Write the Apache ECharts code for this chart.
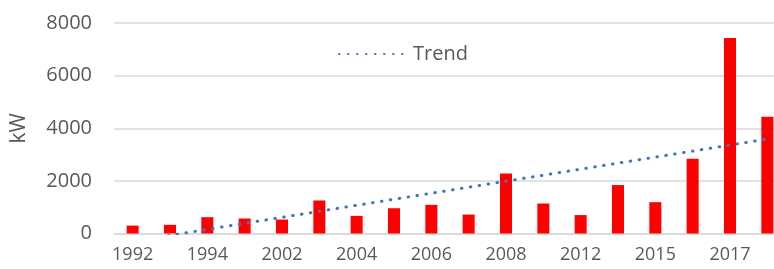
<!DOCTYPE html>
<html>
<head>
<meta charset="utf-8">
<script src="https://cdn.jsdelivr.net/npm/echarts@6/dist/echarts.min.js"></script>
<style>
  html, body { margin: 0; padding: 0; background: #fff; }
  #main { width: 774px; height: 269px; }
</style>
</head>
<body>
<div id="main"></div>
<script>
// categories (only every other one is labelled in the picture)
var years = ['1992', '1993', '1994', '2001', '2002', '2003', '2004', '2005', '2006',
             '2007', '2008', '2010', '2012', '2014', '2015', '2016', '2017', '2018'];
// installed power, kW
var power = [300, 330, 620, 570, 530, 1255, 670, 960, 1090,
             720, 2280, 1140, 700, 1840, 1190, 2840, 7430, 4435];
// trend line end points (first and last category)
var trendEnds = [-300, 3590];
var yTicks = [0, 2000, 4000, 6000, 8000];

var trend = years.map(function (d, i) {
    if (i === 0) return trendEnds[0];
    if (i === years.length - 1) return trendEnds[1];
    return null;
});

var font = 'Open Sans';
var grey = '#595959';

var myChart = echarts.init(document.getElementById('main'));

var option = {
    animation: false,
    textStyle: { fontFamily: font },
    grid: {
        left: 114,
        top: 23,
        bottom: 35.5,
        width: 672,
        outerBoundsMode: 'none'
    },
    legend: {
        left: 333,
        top: 39,
        itemWidth: 69,
        itemHeight: 10,
        itemGap: 7,
        itemStyle: { opacity: 0 },
        textStyle: { color: grey, fontSize: 20, fontFamily: font },
        data: ['Trend']
    },
    xAxis: {
        type: 'category',
        data: years,
        axisTick: { show: false },
        axisLine: { lineStyle: { color: '#d9d9d9', width: 1.5 } },
        axisLabel: {
            interval: 1,
            color: grey,
            fontSize: 18,
            margin: 12
        }
    },
    yAxis: {
        type: 'value',
        min: yTicks[0],
        max: yTicks[yTicks.length - 1],
        interval: 2000,
        name: 'kW',
        nameLocation: 'middle',
        nameRotate: 90,
        nameGap: 84,
        nameTextStyle: { color: grey, fontSize: 21, fontFamily: font },
        axisLabel: {
            color: grey,
            fontSize: 20,
            margin: 22,
            formatter: function (v) { return String(v); }
        },
        splitLine: { lineStyle: { color: '#d9d9d9', width: 1.5 } }
    },
    series: [
        {
            name: 'kW',
            type: 'bar',
            data: power,
            barWidth: 12,
            itemStyle: { color: '#ff0000' }
        },
        {
            name: 'Trend',
            type: 'line',
            data: trend,
            connectNulls: true,
            symbol: 'none',
            clip: true,
            lineStyle: {
                color: '#4472c4',
                width: 3,
                type: [0.5, 8.5],
                cap: 'round'
            },
            itemStyle: { color: '#4472c4' }
        }
    ]
};

myChart.setOption(option);
</script>
</body>
</html>
